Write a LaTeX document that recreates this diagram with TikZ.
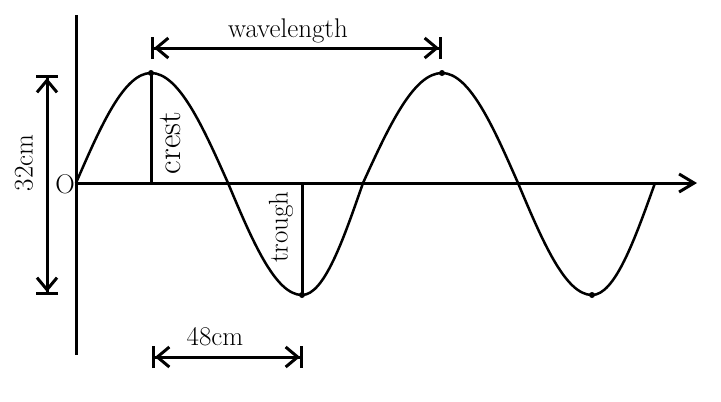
\documentclass[tikz,border=0pt]{standalone}
\usetikzlibrary{arrows.meta}
\begin{document}
\begin{tikzpicture}[x=1pt,y=-1pt,
  axisline/.style={line width=3pt},
  waveline/.style={line width=2.5pt, line join=round},
  dimline/.style={line width=3pt,
    {Bar[width=22pt]Straight Barb[length=12pt,width=20pt]}-{Straight Barb[length=12pt,width=20pt]Bar[width=22pt]}},
  lbl/.style={font=\fontsize{27}{32}\selectfont, inner sep=0pt},
  dot/.style={fill, circle, minimum size=6pt, inner sep=0pt}]
\useasboundingbox (0,0) rectangle (721,402);
% axes
\coordinate (ytop) at (76,15);
\coordinate (ybot) at (76,355);
\coordinate (o) at (76,183);
\coordinate (xend) at (697,183);
\draw[axisline] (ytop) -- (ybot);
\draw[axisline, -{Straight Barb[length=15pt,width=18pt]}] (o) -- (xend);
% wave key points
\coordinate (c1) at (151,73);
\coordinate (z1) at (228,183);
\coordinate (t1) at (302,295);
\coordinate (z2) at (363,183);
\coordinate (c2) at (442,73);
\coordinate (z3) at (518,183);
\coordinate (t2) at (592,295);
\coordinate (z4) at (655,183);
\coordinate (c1b) at (151,183);
\coordinate (t1b) at (302,183);
\draw[waveline] (o) sin (c1) cos (z1) sin (t1) cos (z2) sin (c2) cos (z3) sin (t2) cos (z4);
\node[dot] (d1) at (c1) {};
\node[dot] (d2) at (t1) {};
\node[dot] (d3) at (c2) {};
\node[dot] (d4) at (t2) {};
% crest and trough lines
\draw[axisline] (c1) -- (c1b);
\draw[axisline] (t1b) -- (t1);
% dimension arrows
\coordinate (wl1) at (151,48);
\coordinate (wl2) at (442,48);
\draw[dimline] (wl1) -- (wl2);
\coordinate (am1) at (47,75);
\coordinate (am2) at (47,295);
\draw[dimline] (am1) -- (am2);
\coordinate (hw1) at (152,357);
\coordinate (hw2) at (303,357);
\draw[dimline] (hw1) -- (hw2);
% labels
\node[lbl] (lwl) at (288,31) {wavelength};
\node[lbl] (l48) at (215,337) {48cm};
\node[lbl, rotate=90] (l32) at (24,163) {32cm};
\node[lbl, anchor=east] (lo) at (75,184) {O};
\node[lbl, rotate=90, font=\fontsize{33}{38}\selectfont] (lcrest) at (170,143) {crest};
\node[lbl, rotate=90] (ltrough) at (281,227) {trough};
\end{tikzpicture}
\end{document}
